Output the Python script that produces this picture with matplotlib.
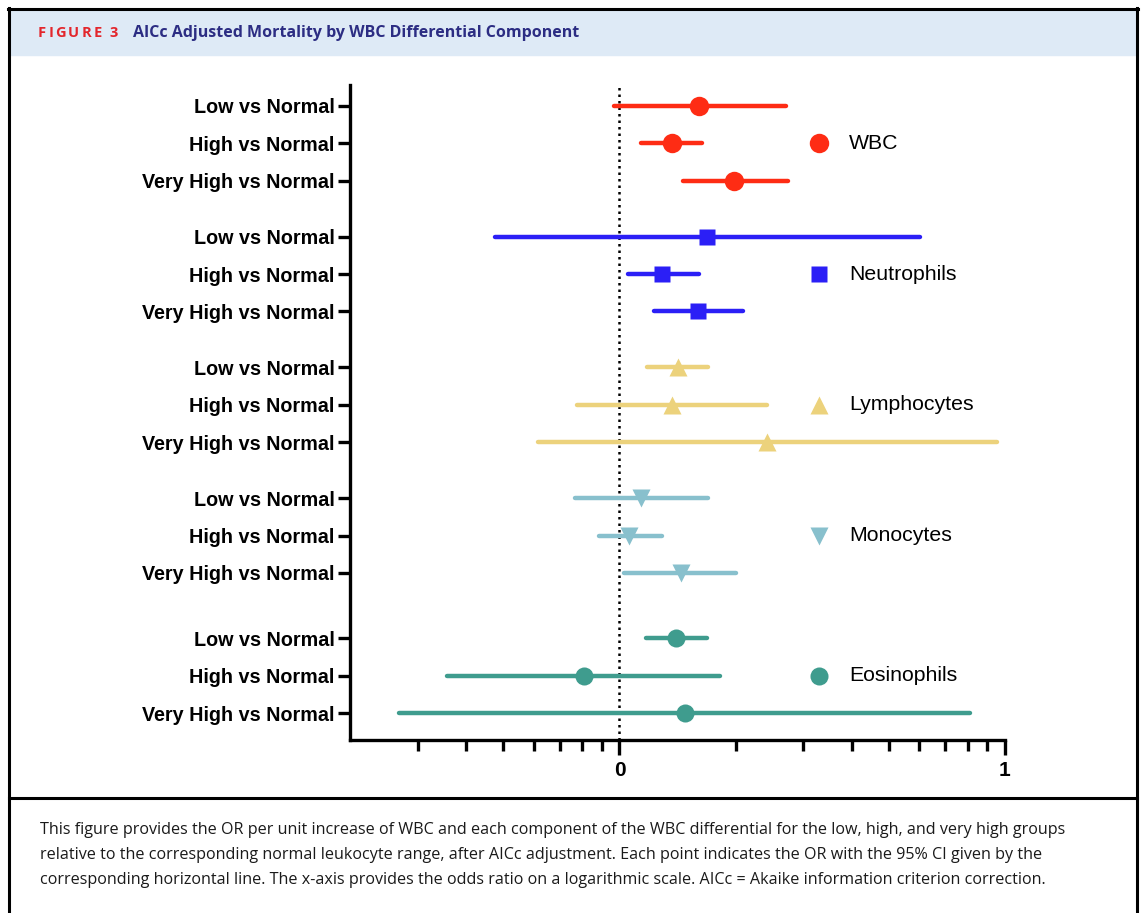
import matplotlib
matplotlib.use("Agg")
import matplotlib.pyplot as plt
from matplotlib.lines import Line2D
from matplotlib.patches import Rectangle
from matplotlib.ticker import FixedLocator, NullFormatter

# data: odds ratios with 95% CI
groups = ["WBC", "Neutrophils", "Lymphocytes", "Monocytes", "Eosinophils"]
comparisons = ["Low vs Normal", "High vs Normal", "Very High vs Normal"]

wbc_or = [1.61, 1.365, 1.98]
wbc_lo = [0.965, 1.14, 1.46]
wbc_hi = [2.71, 1.64, 2.73]

neut_or = [1.69, 1.29, 1.60]
neut_lo = [0.476, 1.05, 1.23]
neut_hi = [6.01, 1.61, 2.09]

lymph_or = [1.42, 1.37, 2.41]
lymph_lo = [1.18, 0.778, 0.616]
lymph_hi = [1.70, 2.41, 9.53]

mono_or = [1.14, 1.06, 1.44]
mono_lo = [0.769, 0.887, 1.03]
mono_hi = [1.70, 1.29, 2.00]

eos_or = [1.40, 0.811, 1.48]
eos_lo = [1.17, 0.357, 0.268]
eos_hi = [1.69, 1.82, 8.09]

series = [
    (wbc_or, wbc_lo, wbc_hi),
    (neut_or, neut_lo, neut_hi),
    (lymph_or, lymph_lo, lymph_hi),
    (mono_or, mono_lo, mono_hi),
    (eos_or, eos_lo, eos_hi),
]

colors = ["#fe2c14", "#2b1ff6", "#ecd27c", "#88c0cd", "#3f9c8e"]
markers = ["o", "s", "^", "v", "o"]
msizes = [14, 12, 13, 13, 13]
group_start = [0, 3.5, 7, 10.5, 14.25]

W, H = 1144, 913
fig = plt.figure(figsize=(W / 100, H / 100), dpi=100)

# frame, title band, caption separator
def fx(px):
    return px / W

def fy(py):
    return 1 - py / H

fig.patches.append(Rectangle((fx(10), fy(55)), fx(1126), fy(10) - fy(55),
                             transform=fig.transFigure, color="#deeaf6", zorder=0))
for xs, ys in [([9, 9], [8, 913]), ([1137, 1137], [8, 913]),
               ([8, 1138], [9, 9]), ([9, 1137], [798, 798])]:
    fig.lines.append(Line2D([fx(x) for x in xs], [fy(y) for y in ys],
                            transform=fig.transFigure, color="black", lw=2.2))

# "FIGURE 3" with letter spacing, placed char by char
renderer = fig.canvas.get_renderer()
xpos = 38
for ch in "FIGURE 3":
    if ch == " ":
        xpos += 6
        continue
    t = fig.text(fx(xpos), fy(33), ch, color="#e3262c", fontsize=10.5,
                 fontweight="bold", family="Open Sans", va="center")
    xpos += t.get_window_extent(renderer).width + 2.2
fig.text(fx(133), fy(33), "AICc Adjusted Mortality by WBC Differential Component",
         color="#2c2d83", fontsize=11.5, fontweight="bold", family="Open Sans", va="center")

caption = ("This figure provides the OR per unit increase of WBC and each component of the WBC differential for the low, high, and very high groups\n"
           "relative to the corresponding normal leukocyte range, after AICc adjustment. Each point indicates the OR with the 95% CI given by the\n"
           "corresponding horizontal line. The x-axis provides the odds ratio on a logarithmic scale. AICc = Akaike information criterion correction.")
fig.text(fx(40), fy(855), caption, fontsize=11.6, family="Open Sans", va="center",
         linespacing=1.72, color="#1a1a1a")

ax = fig.add_axes([fx(350), fy(740), fx(1005) - fx(350), fy(85) - fy(740)])
ax.set_xscale("log")
ax.set_xlim(0.2, 10)
ax.set_ylim(16.97, -0.56)

ax.axvline(1, color="black", lw=1.8, ls=(0, (1, 1.6)), zorder=1)

yticks = []
ylabels = []
for g, (vals, lo, hi) in enumerate(series):
    ys = [group_start[g] + i for i in range(len(vals))]
    yticks += ys
    ylabels += comparisons
    ax.hlines(ys, lo, hi, color=colors[g], lw=3.2, capstyle="round", zorder=2)
    ax.plot(vals, ys, ls="none", marker=markers[g], ms=msizes[g],
            color=colors[g], mec="none", zorder=3)
    # legend entry next to the middle row
    ax.plot([0.716], [ys[1]], transform=ax.get_yaxis_transform(), ls="none",
            marker=markers[g], ms=msizes[g], color=colors[g], mec="none", clip_on=False)
    ax.text(0.762, ys[1], groups[g], transform=ax.get_yaxis_transform(),
            fontsize=15.3, family="Liberation Sans", va="center", ha="left")

ax.set_yticks(yticks)
ax.set_yticklabels(ylabels, fontsize=14.2, fontweight="bold", family="Liberation Sans")

ax.xaxis.set_major_locator(FixedLocator([1, 10]))
ax.set_xticklabels(["0", "1"], fontsize=15, fontweight="bold", family="Liberation Sans")
ax.xaxis.set_minor_locator(FixedLocator([0.3, 0.4, 0.5, 0.6, 0.7, 0.8, 0.9,
                                         2, 3, 4, 5, 6, 7, 8, 9]))
ax.xaxis.set_minor_formatter(NullFormatter())

for s in ["top", "right"]:
    ax.spines[s].set_visible(False)
for s in ["left", "bottom"]:
    ax.spines[s].set_linewidth(2.4)
ax.tick_params(axis="y", length=9, width=2.4, pad=2)
ax.tick_params(axis="x", which="major", length=11, width=2.4, pad=4)
ax.tick_params(axis="x", which="minor", length=8, width=2.4)

fig.savefig("out.png", dpi=100)
